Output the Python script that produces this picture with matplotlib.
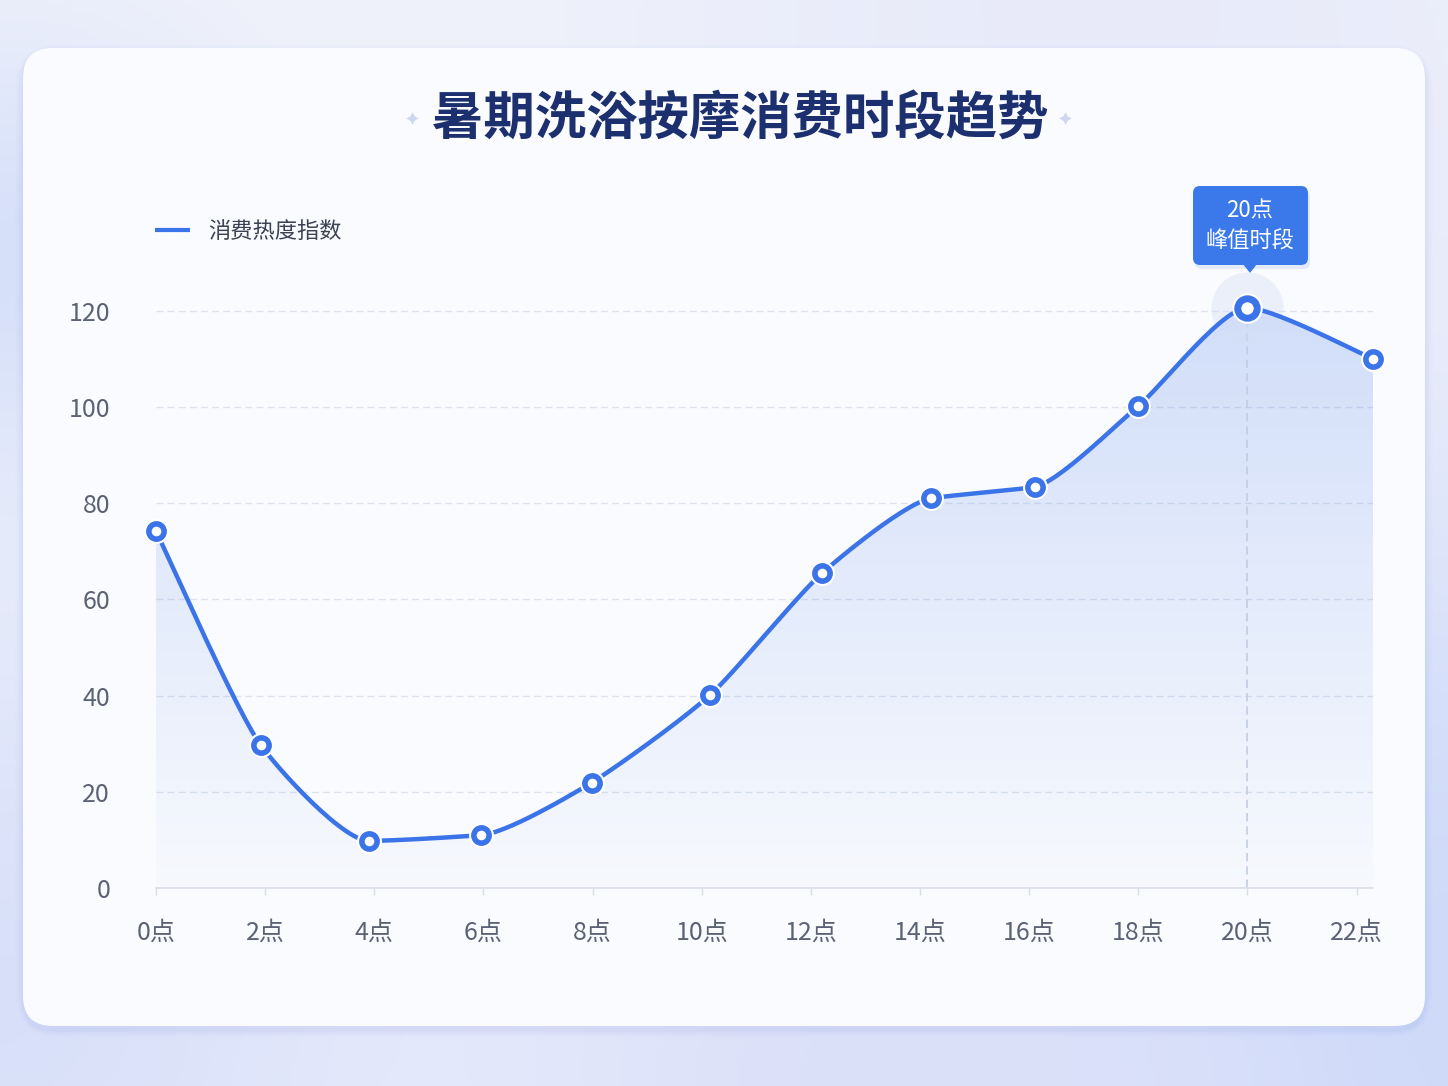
import numpy as np
import matplotlib
matplotlib.use("Agg")
import matplotlib.pyplot as plt
from matplotlib.patches import FancyBboxPatch, Polygon

plt.rcParams['font.family'] = ['Noto Sans CJK SC', 'DejaVu Sans']

# 数据
hours = [0, 1.92, 3.9, 5.96, 7.98, 10.15, 12.2, 14.2, 16.1, 18.0, 20.0, 22.3]
heat = [74.2, 29.7, 9.8, 11.0, 21.9, 40.1, 65.4, 81.0, 83.4, 100.2, 120.6, 110.0]
tick_hours = [0, 2, 4, 6, 8, 10, 12, 14, 16, 18, 20, 22]
tick_labels = [f"{h}点" for h in tick_hours]
y_ticks = [0, 20, 40, 60, 80, 100, 120]
peak_idx = 10

title = "暑期洗浴按摩消费时段趋势"
series_name = "消费热度指数"
peak_text = "20点\n峰值时段"

BLUE = "#3b73e8"
W, H = 1448, 1086


def smooth(x, y, k=0.33, n=30):
    # 类似 echarts 的单调平滑
    x = np.asarray(x, float)
    y = np.asarray(y, float)
    m = len(x)
    tx = np.zeros(m)
    ty = np.zeros(m)
    for i in range(m):
        a = max(i - 1, 0)
        b = min(i + 1, m - 1)
        tx[i] = (x[b] - x[a]) * k
        ty[i] = (y[b] - y[a]) * k
        if 0 < i < m - 1:
            d1 = y[i] - y[i - 1]
            d2 = y[i + 1] - y[i]
            if d1 * d2 <= 0:
                ty[i] = 0
            else:
                lim = 2 * k * min(abs(d1), abs(d2)) * 1.5
                ty[i] = np.sign(ty[i]) * min(abs(ty[i]), lim)
    xs, ys = [], []
    t = np.linspace(0, 1, n)
    h00 = 2 * t**3 - 3 * t**2 + 1
    h10 = t**3 - 2 * t**2 + t
    h01 = -2 * t**3 + 3 * t**2
    h11 = t**3 - t**2
    for i in range(m - 1):
        xs.append(h00 * x[i] + h10 * tx[i] + h01 * x[i + 1] + h11 * tx[i + 1])
        ys.append(h00 * y[i] + h10 * ty[i] + h01 * y[i + 1] + h11 * ty[i + 1])
    return np.concatenate(xs), np.concatenate(ys)


fig = plt.figure(figsize=(W / 100, H / 100), dpi=100)

# 背景
bg = fig.add_axes([0, 0, 1, 1], zorder=0)
bg.set_xlim(0, W)
bg.set_ylim(H, 0)
bg.axis("off")
gx, gy = np.meshgrid(np.linspace(0, W, 300), np.linspace(0, H, 225))
base = np.array([0.945, 0.952, 0.982])
img = np.ones((225, 300, 3)) * base
blobs = [(0, 260, 160, np.array([0.84, 0.88, 0.98])),
         (0, 1000, 300, np.array([0.85, 0.88, 0.98])),
         (1448, 1000, 420, np.array([0.80, 0.85, 0.98])),
         (900, 1086, 300, np.array([0.86, 0.88, 0.98])),
         (1100, 0, 350, np.array([0.91, 0.92, 0.98]))]
for cx, cy, r, col in blobs:
    w = np.exp(-((gx - cx) ** 2 + (gy - cy) ** 2) / (2 * r**2))[..., None]
    img = img * (1 - w) + col * w
bg.imshow(img, extent=[0, W, H, 0], aspect="auto", zorder=0)

# 卡片阴影与卡片
for i, a in enumerate([0.05, 0.04, 0.03, 0.02]):
    pad = 3 + i * 4
    bg.add_patch(FancyBboxPatch((23 - pad / 2, 52 - pad / 2), 1402 + pad, 978 + pad,
                                boxstyle="round,pad=0,rounding_size=%d" % (30 + pad),
                                fc="#7f95e0", ec="none", alpha=a, zorder=1))
bg.add_patch(FancyBboxPatch((23, 48), 1402, 978,
                            boxstyle="round,pad=0,rounding_size=30",
                            fc="#fafbfe", ec="none", zorder=2))

# 标题
bg.text(740, 118, title, ha="center", va="center", fontsize=37, fontweight="bold",
        color="#1c2f6e", zorder=5)
for px in (412, 1065):
    bg.plot(px, 118, marker=(4, 1, 0), ms=9, color="#cdd7f0", mec="none", zorder=5)

# 图例
bg.plot([155, 190], [230, 230], color=BLUE, lw=3, solid_capstyle="butt", zorder=5)
bg.text(208, 231, series_name, ha="left", va="center", fontsize=16, color="#3c4254", zorder=5)

# 主图
y0_px, y1_px = 888, 286
ymax = (y0_px - y1_px) / 4.81
ax = fig.add_axes([156 / W, (H - y0_px) / H, (1373 - 156) / W, (y0_px - y1_px) / H], zorder=3)
ax.set_facecolor("none")
ax.set_xlim(0, hours[-1])
ax.set_ylim(0, ymax)

sx, sy = smooth(hours, heat)

# 渐变填充
grad = np.zeros((200, 2, 4))
grad[..., :3] = matplotlib.colors.to_rgb("#4a7de8")
grad[..., 3] = np.linspace(0.24, 0.02, 200)[:, None]
im = ax.imshow(grad, extent=[0, hours[-1], 0, ymax], origin="upper", aspect="auto", zorder=1)
poly = Polygon(np.column_stack([np.r_[sx[0], sx, sx[-1]], np.r_[0, sy, 0]]),
               closed=True, transform=ax.transData)
im.set_clip_path(poly)

for yv in y_ticks[1:]:
    ax.axhline(yv, color="#dde3ee", lw=1, ls=(0, (5, 3)), zorder=0.5)

ax.plot(sx, sy, color=BLUE, lw=3.2, zorder=3, solid_capstyle="round", clip_on=False)

# 峰值虚线与光晕
ax.plot([hours[peak_idx], hours[peak_idx]], [0, heat[peak_idx]], color="#c3cce0",
        lw=1.2, ls=(0, (5, 3)), zorder=2)
ax.scatter([hours[peak_idx]], [heat[peak_idx]], s=2700, color="#d3ddf6", alpha=0.4,
           lw=0, zorder=2.5, clip_on=False)

for i, (hx, hy) in enumerate(zip(hours, heat)):
    big = i == peak_idx
    ms = 14 if big else 11
    mew = 5 if big else 4
    ax.plot(hx, hy, "o", ms=ms, mfc="white", mec="white", mew=mew + 3, zorder=4, clip_on=False)
    ax.plot(hx, hy, "o", ms=ms, mfc="white", mec=BLUE, mew=mew, zorder=5, clip_on=False)

# 坐标轴
for s in ["top", "right", "left"]:
    ax.spines[s].set_visible(False)
ax.spines["bottom"].set_color("#d8dde8")
ax.spines["bottom"].set_linewidth(1.2)
ax.set_xticks(tick_hours)
ax.set_xticklabels(tick_labels)
ax.set_yticks(y_ticks)
ax.tick_params(axis="x", length=5, width=1, color="#d8dde8", pad=18, labelsize=18,
               labelcolor="#5b6273")
ax.tick_params(axis="y", length=0, pad=33, labelsize=18, labelcolor="#5b6273")

# 峰值标注框
bx0, by0, bw, bh = 1193, 186, 115, 79
bg.add_patch(FancyBboxPatch((bx0 + 2, by0 + 4), bw, bh, boxstyle="round,pad=0,rounding_size=7",
                            fc="#3b73e8", ec="none", alpha=0.12, zorder=6))
bg.add_patch(FancyBboxPatch((bx0, by0), bw, bh, boxstyle="round,pad=0,rounding_size=7",
                            fc="#3b78ea", ec="none", zorder=7))
bg.add_patch(Polygon([[1243, 264], [1257, 264], [1250, 273]], closed=True,
                     fc="#3b78ea", ec="none", zorder=7))
bg.text(1250, 226, peak_text, ha="center", va="center", fontsize=16, color="white",
        linespacing=1.4, zorder=8)

fig.savefig("out.png", dpi=100)
